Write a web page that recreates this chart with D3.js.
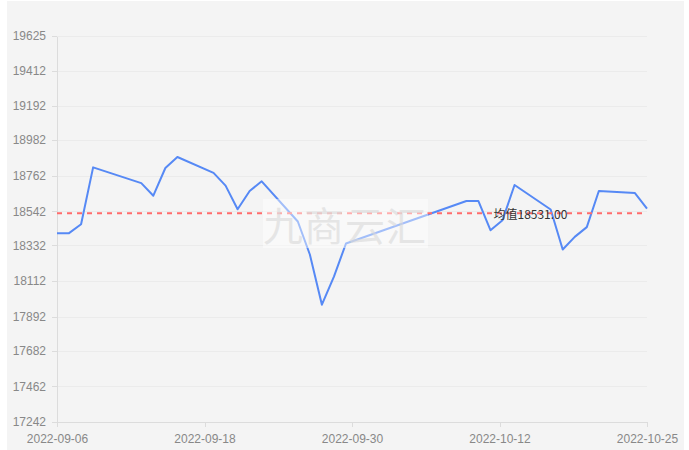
<!DOCTYPE html>
<meta charset="utf-8">
<head>
<style>
body { margin: 0; background: #fff; font-family: "Noto Sans CJK SC", "Noto Sans", sans-serif; }
.grid line { stroke: #ebebeb; stroke-width: 1px; }
.axis path, .axis line { stroke: #dcdcdc; fill: none; shape-rendering: crispEdges; }
.axis text { fill: #888; font-size: 12px; }
</style>
<script src="https://d3js.org/d3.v7.min.js"></script>
</head>
<body>
<div id="chart"></div>
<script>

var dates = ["2022-09-06","2022-09-07","2022-09-08","2022-09-09","2022-09-13","2022-09-14","2022-09-15","2022-09-16",
  "2022-09-19","2022-09-20","2022-09-21","2022-09-22","2022-09-23","2022-09-26","2022-09-27","2022-09-28",
  "2022-09-29","2022-09-30","2022-10-10","2022-10-11","2022-10-12","2022-10-13","2022-10-14","2022-10-17",
  "2022-10-18","2022-10-19","2022-10-20","2022-10-21","2022-10-24","2022-10-25"];
var prices = [18408, 18408, 18463, 18814, 18717, 18639, 18810, 18878,
  18780, 18701, 18555, 18668, 18728, 18480, 18276, 17966,
  18140, 18344, 18606, 18606, 18426, 18488, 18705, 18554,
  18307, 18385, 18445, 18668, 18655, 18559];
var yTicks = [17242, 17462, 17682, 17892, 18112, 18332, 18542, 18762, 18982, 19192, 19412, 19625];
var meanValue = 18531.00;
var meanLabel = "均值18531.00";
var watermark = "九商云汇";

var W = 689, H = 450;
var margin = {top: 36, right: 42, bottom: 28, left: 57},
  width = W - margin.left - margin.right,
  height = H - margin.top - margin.bottom;

var svg = d3.select("#chart").append("svg")
  .attr("width", W).attr("height", H);

svg.append("rect")
  .attr("x", 7).attr("y", 1)
  .attr("width", 677).attr("height", 449)
  .attr("fill", "#f4f4f4");

var g = svg.append("g")
  .attr("transform", "translate(" + margin.left + "," + margin.top + ")");

var parse = d3.timeParse("%Y-%m-%d");
var data = dates.map(function(d, i) { return {date: parse(d), value: prices[i]}; });

var x = d3.scaleTime()
  .domain([parse("2022-09-06"), parse("2022-10-25")])
  .range([0, width]);
var y = d3.scaleLinear()
  .domain([yTicks[0], yTicks[yTicks.length - 1]])
  .range([height, 0]);

// evenly split time ticks
var t0 = x.domain()[0].getTime(), t1 = x.domain()[1].getTime();
var xTicks = d3.range(5).map(function(i) { return new Date(t0 + i * (t1 - t0) / 4); });

// grid
g.append("g").attr("class", "grid")
  .selectAll("line")
  .data(yTicks.slice(1))
  .enter().append("line")
    .attr("x1", 0).attr("x2", width)
    .attr("y1", function(d) { return Math.round(y(d)) + 0.5; })
    .attr("y2", function(d) { return Math.round(y(d)) + 0.5; });

// y axis
var yAx = g.append("g").attr("class", "axis")
  .call(d3.axisLeft(y).tickValues(yTicks).tickSize(5).tickSizeOuter(0).tickPadding(6).tickFormat(d3.format("d")));
yAx.select(".domain").attr("stroke", "#dcdcdc");

// x axis
var xAx = g.append("g").attr("class", "axis")
  .attr("transform", "translate(0," + height + ")")
  .call(d3.axisBottom(x).tickValues(xTicks).tickSize(5).tickSizeOuter(0).tickPadding(5).tickFormat(d3.timeFormat("%Y-%m-%d")));
xAx.selectAll("text").attr("dy", "0.9em");

// line
var line = d3.line()
  .x(function(d) { return x(d.date); })
  .y(function(d) { return y(d.value); });
g.append("path")
  .datum(data)
  .attr("d", line)
  .attr("fill", "none")
  .attr("stroke", "#5689f5")
  .attr("stroke-width", 2)
  .attr("stroke-linejoin", "round");

// mean line
g.append("line")
  .attr("x1", 0).attr("x2", width)
  .attr("y1", y(meanValue)).attr("y2", y(meanValue))
  .attr("stroke", "#ff6b6b")
  .attr("stroke-width", 2)
  .attr("stroke-dasharray", "5,5");
g.append("text")
  .attr("x", x(parse("2022-10-12")) + 3)
  .attr("y", y(meanValue) + 6)
  .attr("font-size", 12)
  .attr("fill", "#333")
  .text(meanLabel);

// watermark
svg.append("rect")
  .attr("x", 263).attr("y", 199)
  .attr("width", 165).attr("height", 49)
  .attr("fill", "#fff").attr("fill-opacity", 0.45);
svg.append("text")
  .attr("x", 345).attr("y", 241)
  .attr("text-anchor", "middle")
  .attr("font-size", 40)
  .attr("fill", "#d8d8d8").attr("fill-opacity", 0.6)
  .attr("letter-spacing", 1)
  .text(watermark);

</script>
</body>
</html>
